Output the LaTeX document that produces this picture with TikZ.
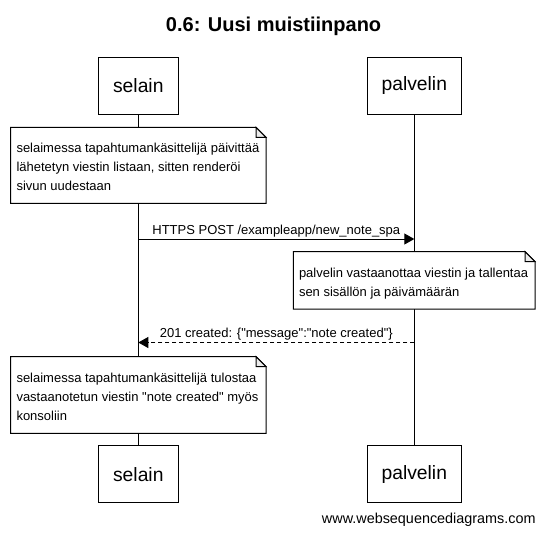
\documentclass[tikz,border=0pt]{standalone}
\usepackage{fontspec}
\setmainfont{Liberation Sans}
\usetikzlibrary{arrows.meta,positioning}

% muistilappu: vasen, yla, oikea, ala
\newcommand{\muistilappu}[4]{%
  \fill[white] (#1,#2) -- (#3-10,#2) -- (#3,#2+10) -- (#3,#4) -- (#1,#4) -- cycle;
  \draw (#1,#2) -- (#3-10,#2) -- (#3,#2+10) -- (#3,#4) -- (#1,#4) -- cycle;
  \draw[fill=black!8] (#3-10,#2) -- (#3-10,#2+10) -- (#3,#2+10) -- cycle;
}
\newcommand{\lainaus}{\textquotedbl{}}

\begin{document}
\begin{tikzpicture}[x=1pt, y=-1pt, line width=1pt,
  osallistuja/.style={draw, fill=white, inner xsep=14.5pt, inner ysep=0pt, minimum height=56.7pt,
    font=\fontsize{19.3}{22}\selectfont},
  lapputeksti/.style={align=left, inner sep=0pt, anchor=north west, font=\fontsize{13}{19}\selectfont},
  viesti/.style={anchor=base, inner sep=0pt, yshift=5pt, font=\fontsize{13}{15}\selectfont},
  >={Triangle[length=10pt,width=11pt]}]

\useasboundingbox[fill=white] (0,0) rectangle (545,538);

\node[anchor=base, font=\bfseries\fontsize{20}{24}\selectfont] (otsikko) at (273.6,31) {0.6: Uusi muistiinpano};

\node[osallistuja] (selainY) at (138.3,85.7) {selain};
\node[osallistuja] (palvelinY) at (414.3,85.7) {palvelin};
\node[osallistuja] (selainA) at (138.3,474.3) {selain};
\node[osallistuja] (palvelinA) at (414.3,474.3) {palvelin};

\draw (selainY) -- (selainA);
\draw (palvelinY) -- (palvelinA);

\muistilappu{10.7}{127.3}{266}{203.3}
\node[lapputeksti] (lappu1) at (16,143) {selaimessa tapahtumankäsittelijä päivittää\\lähetetyn viestin listaan, sitten renderöi\\sivun uudestaan};

\coordinate (pyynto1) at (138.3,239);
\coordinate (pyynto2) at (414.3,239);
\draw[->] (pyynto1) -- node[viesti] (pyyntoteksti) {HTTPS POST /exampleapp/new\_note\_spa} (pyynto2);

\muistilappu{293.3}{251.7}{535}{309}
\node[lapputeksti] (lappu2) at (298.5,267.2) {palvelin vastaanottaa viestin ja tallentaa\\sen sisällön ja päivämäärän};

\coordinate (vastaus1) at (414.3,342.5);
\coordinate (vastaus2) at (138.3,342.5);
\draw[->, dash pattern=on 4pt off 3pt] (vastaus1) -- node[viesti] (vastausteksti) {201 created: \{\lainaus message\lainaus:\lainaus note created\lainaus\}} (vastaus2);

\muistilappu{10.7}{356.7}{266}{433.3}
\node[lapputeksti] (lappu3) at (16,372.5) {selaimessa tapahtumankäsittelijä tulostaa\\vastaanotetun viestin \lainaus note created\lainaus\ myös\\konsoliin};

\node[anchor=east, font=\fontsize{14.4}{16}\selectfont] (alaviite) at (539.5,519.3) {www.websequencediagrams.com};

\end{tikzpicture}
\end{document}
